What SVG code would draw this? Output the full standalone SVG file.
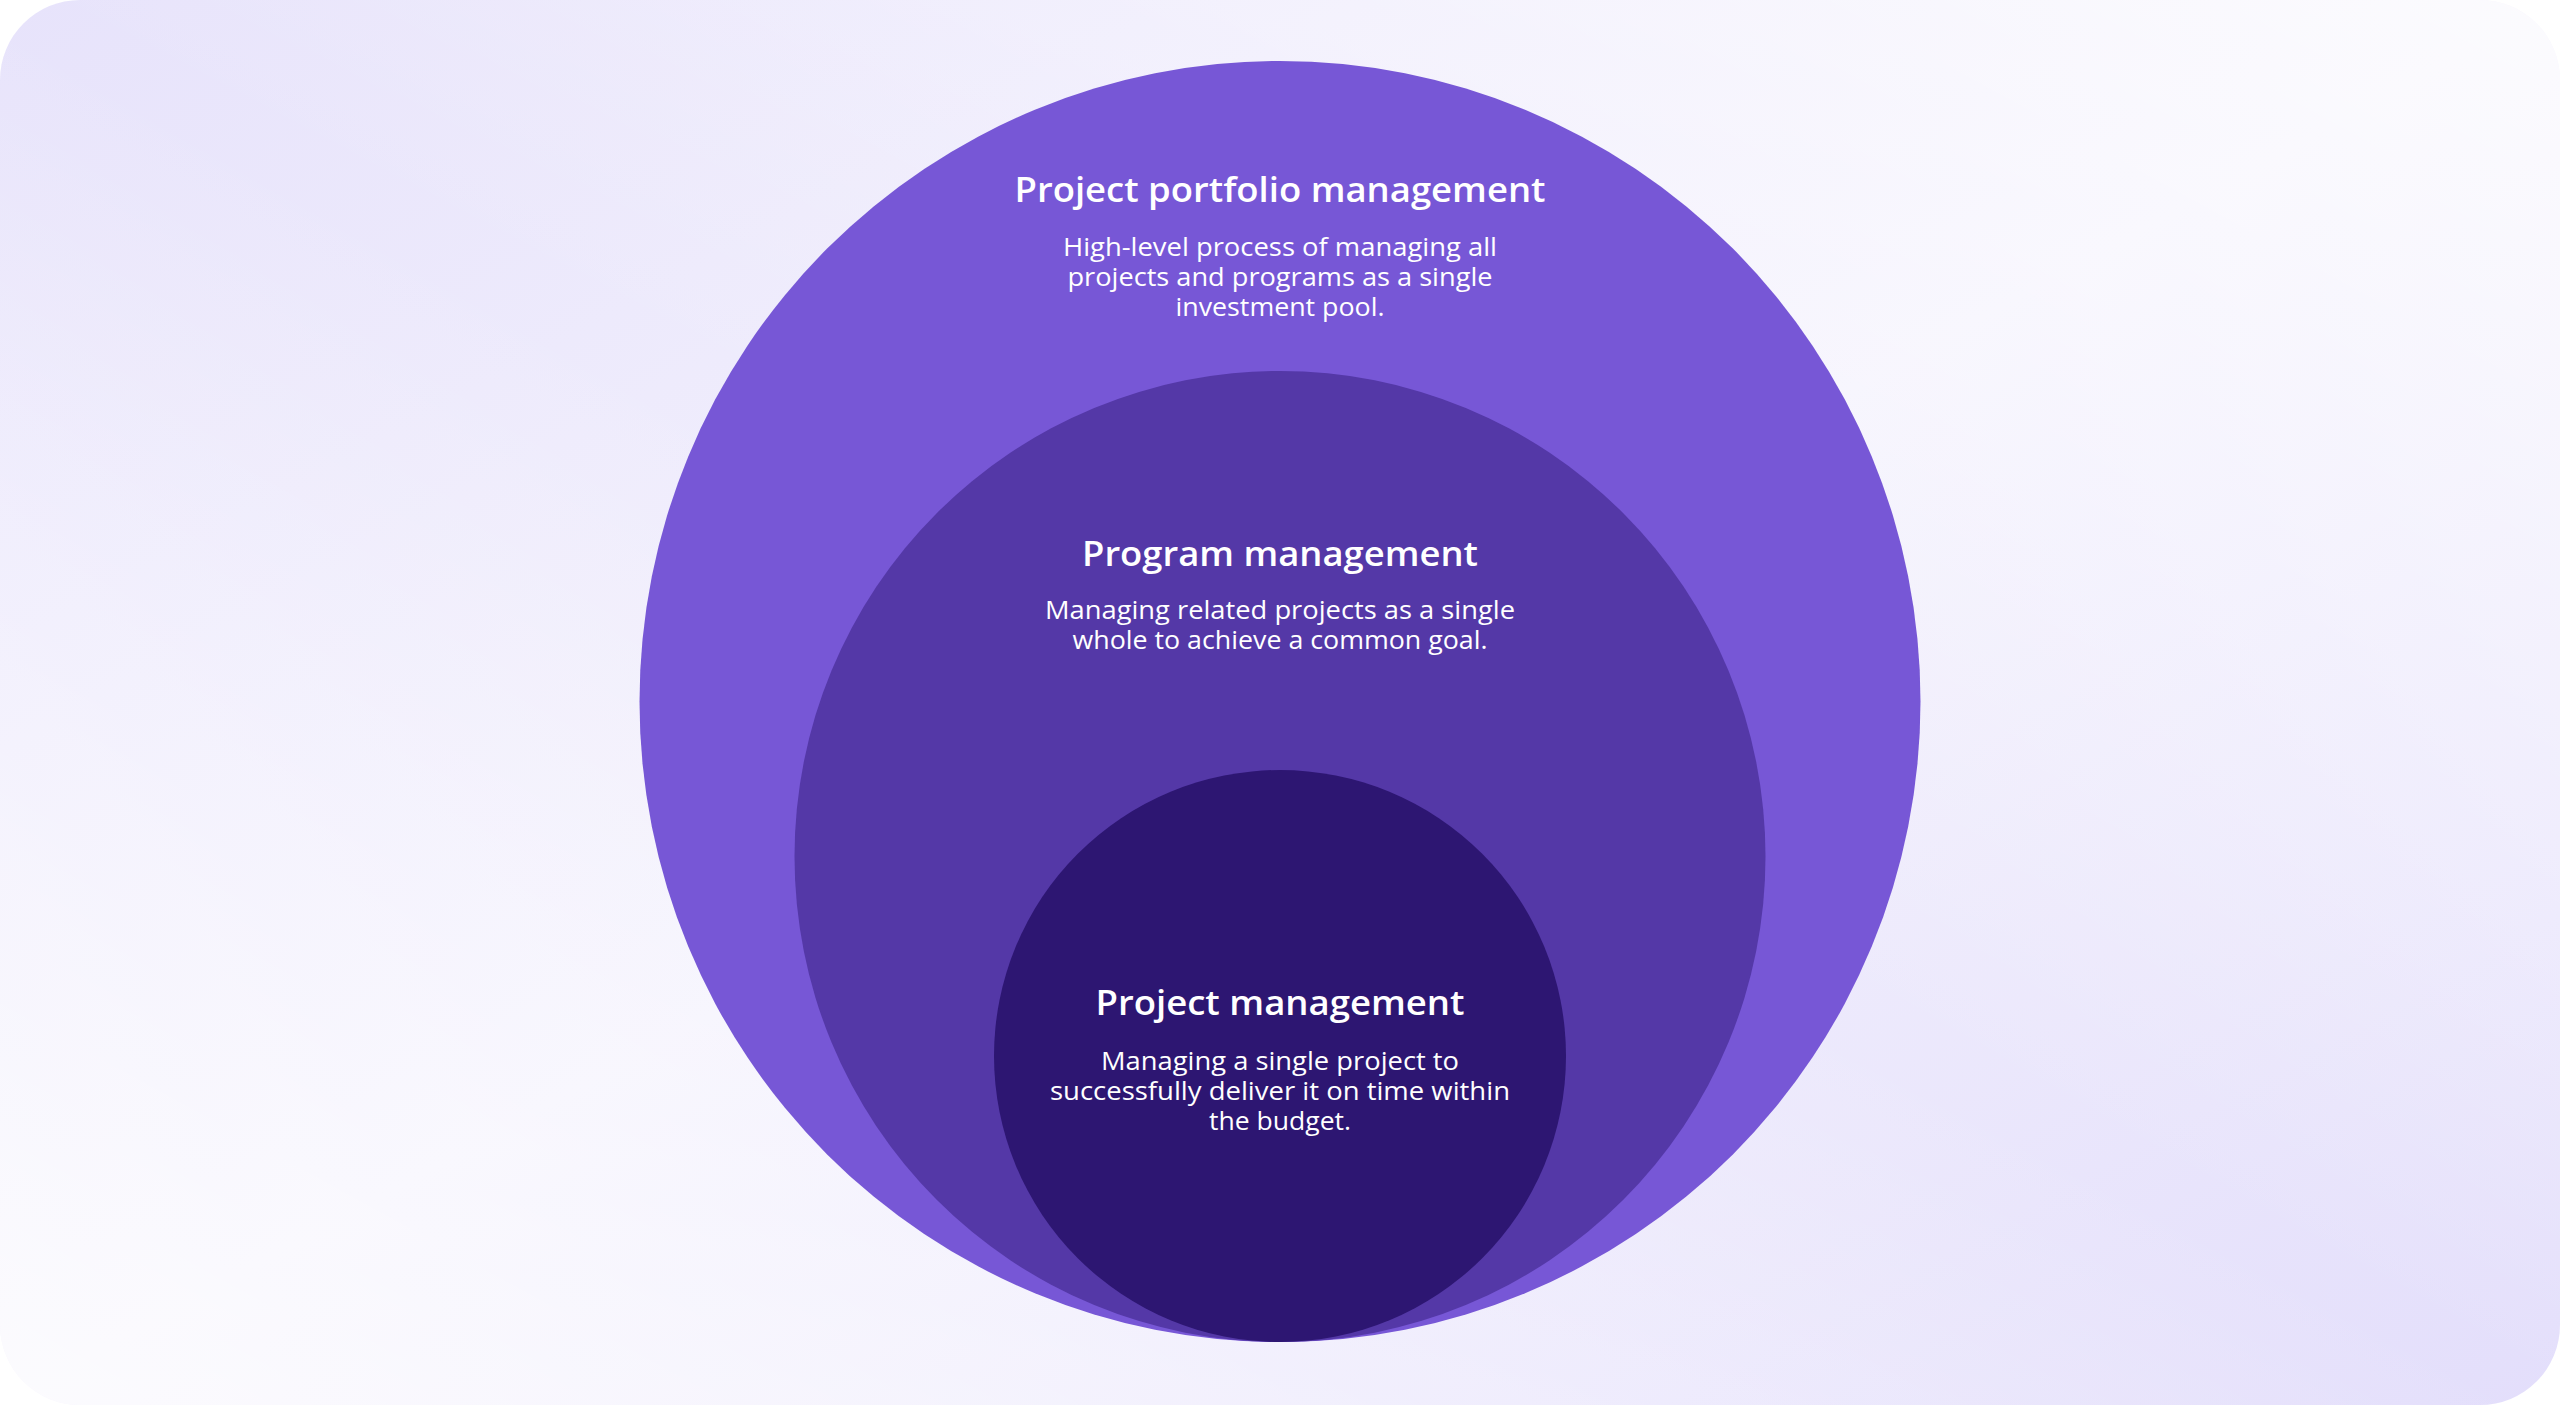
<svg xmlns="http://www.w3.org/2000/svg" width="2560" height="1405" viewBox="0 0 2560 1405">
<defs>
<linearGradient id="bg" x1="0" y1="0" x2="1" y2="1">
<stop offset="0" stop-color="#e7e3fb"/>
<stop offset="0.5" stop-color="#f4f2fd"/>
<stop offset="1" stop-color="#e3defb"/>
</linearGradient>
<linearGradient id="bg2" x1="1" y1="0" x2="0" y2="1">
<stop offset="0" stop-color="#ffffff" stop-opacity="0.7"/>
<stop offset="0.5" stop-color="#ffffff" stop-opacity="0"/>
<stop offset="1" stop-color="#ffffff" stop-opacity="0.7"/>
</linearGradient>
<style>
.t{font-family:"Open Sans","Noto Sans",sans-serif;fill:#ffffff;text-anchor:middle}
.h{font-size:34px;font-weight:600}
.d{font-size:25px;font-weight:500}
</style>
</defs>
<rect x="0" y="0" width="2560" height="1405" fill="#ffffff"/>
<rect x="0" y="0" width="2560" height="1405" rx="80" ry="80" fill="url(#bg)"/>
<rect x="0" y="0" width="2560" height="1405" rx="80" ry="80" fill="url(#bg2)"/>
<g id="portfolio">
<circle cx="1280" cy="701.5" r="640.5" fill="#7757d6"/>
<text class="t h" x="1280" y="202" textLength="531" lengthAdjust="spacingAndGlyphs">Project portfolio management</text>
<text class="t d" x="1280" y="256" textLength="434" lengthAdjust="spacingAndGlyphs">High-level process of managing all</text>
<text class="t d" x="1280" y="286" textLength="425" lengthAdjust="spacingAndGlyphs">projects and programs as a single</text>
<text class="t d" x="1280" y="316" textLength="209" lengthAdjust="spacingAndGlyphs">investment pool.</text>
</g>
<g id="program">
<circle cx="1280" cy="856.5" r="485.5" fill="#5438a7"/>
<text class="t h" x="1280" y="566" textLength="396" lengthAdjust="spacingAndGlyphs">Program management</text>
<text class="t d" x="1280" y="619" textLength="470" lengthAdjust="spacingAndGlyphs">Managing related projects as a single</text>
<text class="t d" x="1280" y="649" textLength="415" lengthAdjust="spacingAndGlyphs">whole to achieve a common goal.</text>
</g>
<g id="project">
<circle cx="1280" cy="1056" r="286" fill="#2d1672"/>
<text class="t h" x="1280" y="1015" textLength="369" lengthAdjust="spacingAndGlyphs">Project management</text>
<text class="t d" x="1280" y="1070" textLength="358" lengthAdjust="spacingAndGlyphs">Managing a single project to</text>
<text class="t d" x="1280" y="1100" textLength="460" lengthAdjust="spacingAndGlyphs">successfully deliver it on time within</text>
<text class="t d" x="1280" y="1130" textLength="142" lengthAdjust="spacingAndGlyphs">the budget.</text>
</g>
<g id="connectors"/>
</svg>
